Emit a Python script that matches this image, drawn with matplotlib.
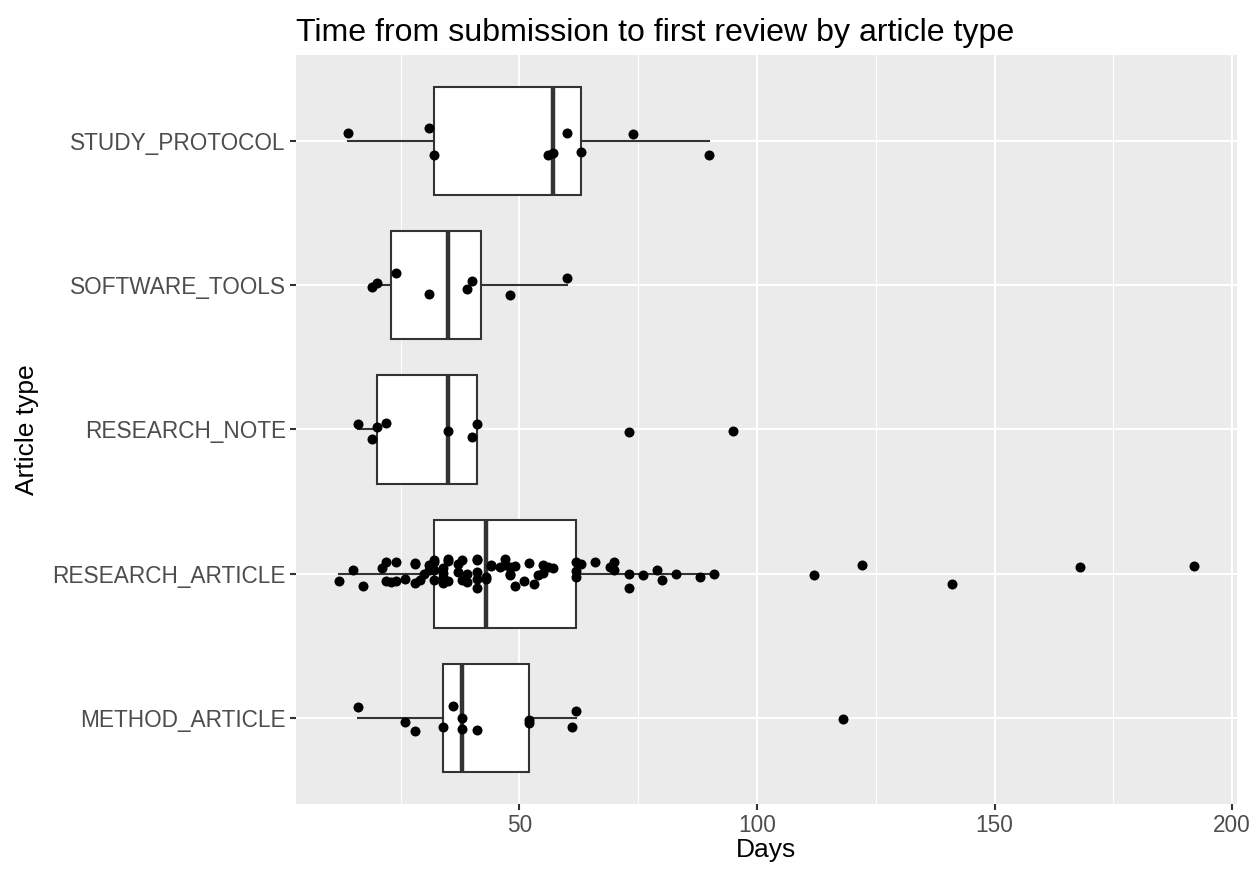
import numpy as np
import matplotlib
matplotlib.use('Agg')
import matplotlib.pyplot as plt
from matplotlib.ticker import FixedLocator

plt.rcParams['font.family'] = ['Liberation Sans', 'DejaVu Sans']

'''
DATA (days to first review, read off the reference; jitter = vertical offset of each dot)
'''
categories = ['METHOD_ARTICLE', 'RESEARCH_ARTICLE', 'RESEARCH_NOTE',
              'SOFTWARE_TOOLS', 'STUDY_PROTOCOL']

method_days = [16, 26, 28, 34, 36, 38, 38, 41, 52, 52, 61, 62, 118]
method_jit = [0.072, -0.028, -0.092, -0.062, 0.078, 0.0, -0.081, -0.088,
              -0.017, -0.035, -0.062, 0.049, -0.007]

article_days = [12, 15, 17, 21, 22, 24, 22, 23, 24, 26,
                28, 28, 28, 29, 30, 31, 31, 32, 32, 35,
                35, 32, 34, 34, 32, 34, 35, 34, 37, 37,
                38, 38, 39, 39, 41, 41, 41, 41, 41, 43,
                43, 44, 44, 47, 46, 47, 48, 49, 48, 48,
                49, 52, 51, 53, 54, 55, 55, 56, 57, 62,
                62, 62, 63, 66, 69, 70, 70, 73, 73, 76,
                79, 80, 83, 88, 91, 112, 122, 141, 168, 192]
article_jit = [-0.049, 0.028, -0.085, 0.035, 0.081, 0.081, -0.055, -0.062, -0.049, -0.035,
               0.074, 0.064, -0.064, -0.042, -0.005, 0.023, 0.058, 0.081, 0.097, 0.104,
               0.088, 0.023, 0.005, 0.035, -0.046, -0.064, -0.051, -0.023, 0.069, 0.012,
               0.097, -0.046, 0.0, -0.058, 0.092, 0.104, 0.012, -0.035, -0.097, -0.023,
               -0.035, 0.051, 0.058, 0.104, 0.042, 0.058, 0.046, 0.051, 0.0, -0.012,
               -0.088, 0.076, -0.053, -0.074, -0.012, 0.005, 0.058, 0.046, 0.035, 0.019,
               -0.023, 0.081, 0.069, 0.081, 0.046, 0.081, 0.028, 0.0, -0.097, -0.007,
               0.028, -0.046, 0.0, -0.023, 0.0, -0.007, 0.062, -0.076, 0.042, 0.049]

note_days = [16, 19, 20, 22, 35, 40, 41, 73, 95]
note_jit = [0.037, -0.069, 0.019, 0.048, -0.009, -0.051, 0.037, -0.014, -0.007]

software_days = [19, 20, 24, 31, 39, 40, 48, 60]
software_jit = [-0.009, 0.014, 0.088, -0.057, -0.028, 0.030, -0.064, 0.055]

protocol_days = [14, 31, 32, 56, 57, 60, 63, 74, 90]
protocol_jit = [0.058, 0.093, -0.092, -0.092, -0.080, 0.058, -0.073, 0.051, -0.092]

days = [method_days, article_days, note_days, software_days, protocol_days]
jits = [method_jit, article_jit, note_jit, software_jit, protocol_jit]

'''
FIGURE
'''
W, H = 1259, 873
fig = plt.figure(figsize=(W/100, H/100), dpi=100)
fig.patch.set_facecolor('white')
ax = fig.add_axes([296/W, (H-804)/H, (1237-296)/W, (804-55)/H])
ax.set_facecolor('#EBEBEB')

grey20 = '#333333'
pos = np.arange(len(categories))
ax.boxplot(days, positions=pos, orientation='horizontal', widths=0.75,
           showfliers=False, showcaps=False, patch_artist=True,
           boxprops=dict(facecolor='white', edgecolor=grey20, linewidth=1.5),
           whiskerprops=dict(color=grey20, linewidth=1.5),
           medianprops=dict(color=grey20, linewidth=3.2, solid_capstyle='butt'),
           zorder=2)

for i in range(len(categories)):
    y = pos[i] + np.array(jits[i])
    ax.scatter(days[i], y, s=52, color='black', linewidths=0, zorder=3)

allx = np.concatenate([np.array(d, dtype=float) for d in days])
lo, hi = allx.min(), allx.max()
pad = 0.05*(hi - lo)
ax.set_xlim(lo - pad, hi + pad)
ax.set_ylim(-0.6, len(categories) - 0.4)

ax.set_xticks([50, 100, 150, 200])
ax.xaxis.set_minor_locator(FixedLocator([25, 75, 125, 175]))
ax.set_yticks(pos)
ax.set_yticklabels(categories)

ax.set_axisbelow(True)
ax.grid(which='major', color='white', linewidth=1.5)
ax.grid(which='minor', axis='x', color='white', linewidth=0.75)
for s in ax.spines.values():
    s.set_visible(False)
ax.tick_params(which='major', length=4.1, width=1.5, color=grey20,
               labelsize=16.3, labelcolor='#4D4D4D', pad=3.2)
ax.tick_params(which='minor', length=0)

fig.text(296/W, 1-41/H, 'Time from submission to first review by article type',
         fontsize=23.1, ha='left', va='baseline')
fig.text((296+1237)/2/W, 1-857/H, 'Days', fontsize=19, ha='center', va='baseline')
fig.text(27/W, 1-430/H, 'Article type', fontsize=19, rotation=90,
         ha='center', va='center')

plt.savefig('out.png', dpi=100)
